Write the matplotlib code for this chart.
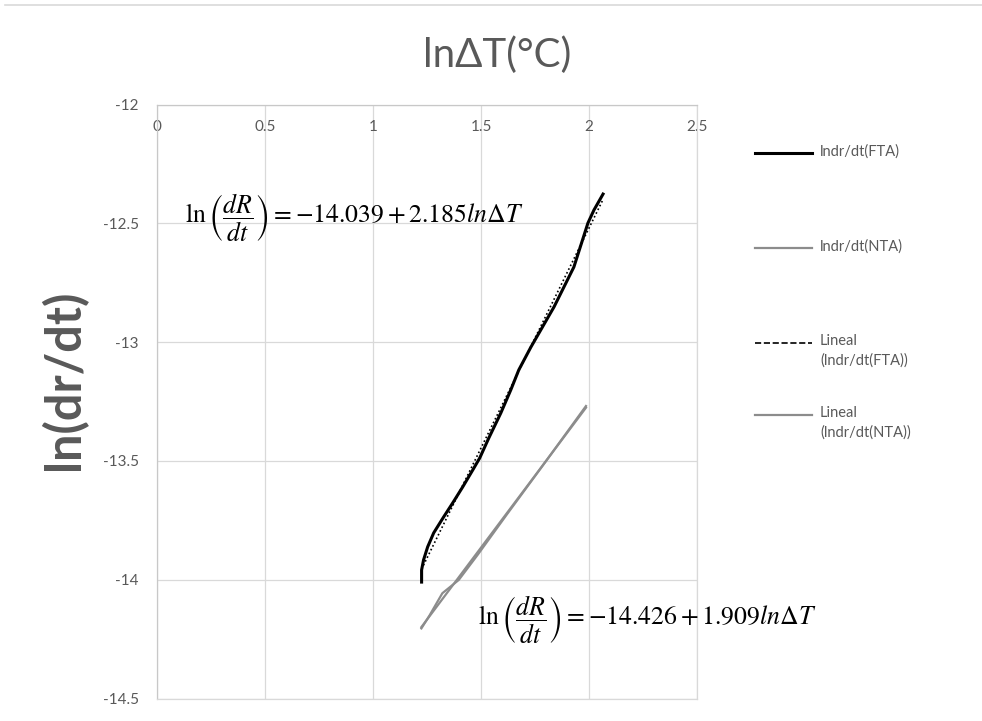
import numpy as np
import matplotlib
matplotlib.use("Agg")
import matplotlib.pyplot as plt
from matplotlib.lines import Line2D

plt.rcParams['font.family'] = ['Lato', 'DejaVu Sans']
plt.rcParams['mathtext.fontset'] = 'stix'

# data
fta_x = [1.225, 1.225, 1.234, 1.253, 1.281, 1.327, 1.369, 1.415, 1.462, 1.494,
         1.536, 1.592, 1.638, 1.675, 1.731, 1.838, 1.930, 1.995, 2.023, 2.065]
fta_y = [-14.010, -13.959, -13.917, -13.862, -13.803, -13.736, -13.677, -13.610,
         -13.538, -13.488, -13.404, -13.298, -13.201, -13.117, -13.021, -12.852,
         -12.684, -12.499, -12.444, -12.377]
nta_x = [1.224, 1.262, 1.321, 1.397, 1.484, 1.620, 1.780, 1.986]
nta_y = [-14.205, -14.150, -14.057, -14.001, -13.896, -13.725, -13.527, -13.269]

xticks = [0, 0.5, 1, 1.5, 2, 2.5]
yticks = [-12, -12.5, -13, -13.5, -14, -14.5]
labels = ['lndr/dt(FTA)', 'lndr/dt(NTA)', 'Lineal\n(lndr/dt(FTA))', 'Lineal\n(lndr/dt(NTA))']
eq_fta = r'$\ln\left(\dfrac{dR}{dt}\right)=-14.039+2.185ln\mathit{\Delta}T$'
eq_nta = r'$\ln\left(\dfrac{dR}{dt}\right)=-14.426+1.909ln\mathit{\Delta}T$'

txt = '#595959'
grid = '#d9d9d9'

fig = plt.figure(figsize=(9.82, 7.21), dpi=100)
ax = fig.add_axes([157 / 982, 1 - 698.5 / 721, 540 / 982, 594 / 721])

l1, = ax.plot(fta_x, fta_y, color='black', lw=2.2, zorder=3)
l2, = ax.plot(nta_x, nta_y, color='#8c8c8c', lw=1.6, zorder=3)

# linear trendlines
p1 = np.polyfit(fta_x, fta_y, 1)
p2 = np.polyfit(nta_x, nta_y, 1)
tx1 = np.array([min(fta_x), max(fta_x)])
tx2 = np.array([min(nta_x), max(nta_x)])
l3, = ax.plot(tx1, np.polyval(p1, tx1), color='black', lw=1.2, ls=(0, (1, 1.5)), zorder=4)
l4, = ax.plot(tx2, np.polyval(p2, tx2), color='#8c8c8c', lw=1.6, zorder=4)

ax.set_xlim(0, 2.5)
ax.set_ylim(-14.5, -12)
ax.set_xticks(xticks)
ax.set_xticklabels([f'{v:g}' for v in xticks])
ax.set_yticks(yticks)
ax.set_yticklabels([f'{v:g}' for v in yticks])
ax.grid(True, color=grid, lw=0.9)
ax.set_axisbelow(True)
for s in ax.spines.values():
    s.set_color(grid)
    s.set_linewidth(0.9)
ax.spines['left'].set_color('#c8c8c8')
ax.spines['top'].set_color('#c8c8c8')

ax.tick_params(axis='x', bottom=False, labelbottom=False, top=True, labeltop=True,
               length=0, pad=-21, labelsize=11, labelcolor=txt)
ax.tick_params(axis='y', length=0, pad=13, labelsize=11, labelcolor=txt)

ax.text((185 - 157) / 540, 1 - (218 - 104.5) / 594, eq_fta, transform=ax.transAxes,
        ha='left', va='center', fontsize=18.5, color='black')
ax.text((478 - 157) / 540, 1 - (620 - 104.5) / 594, eq_nta, transform=ax.transAxes,
        ha='left', va='center', fontsize=18.5, color='black')

fig.text(497 / 982, 1 - 55 / 721, 'lnΔT(°C)', ha='center', va='center',
         fontsize=29, color=txt)
fig.text(64 / 982, 1 - 380 / 721, 'ln(dr/dt)', ha='center', va='center',
         rotation=90, fontsize=35, fontweight='bold', color=txt)

# legend, drawn by hand to keep Excel spacing
leg_y = [153, 248, 343, 415]
for h, lab, yy in zip([l1, l2, l3, l4], labels, leg_y):
    fy = 1 - yy / 721
    fig.add_artist(Line2D([755 / 982, 812 / 982], [fy, fy], color=h.get_color(),
                          lw=h.get_linewidth(), ls=h.get_linestyle()))
    fig.text(820 / 982, fy + 9 / 721, lab, ha='left', va='top', fontsize=10.5,
             color=txt, linespacing=1.5)

fig.add_artist(Line2D([5 / 982, 1], [1 - 5 / 721, 1 - 5 / 721], color=grid, lw=1.2))

fig.savefig('out.png', dpi=100)
